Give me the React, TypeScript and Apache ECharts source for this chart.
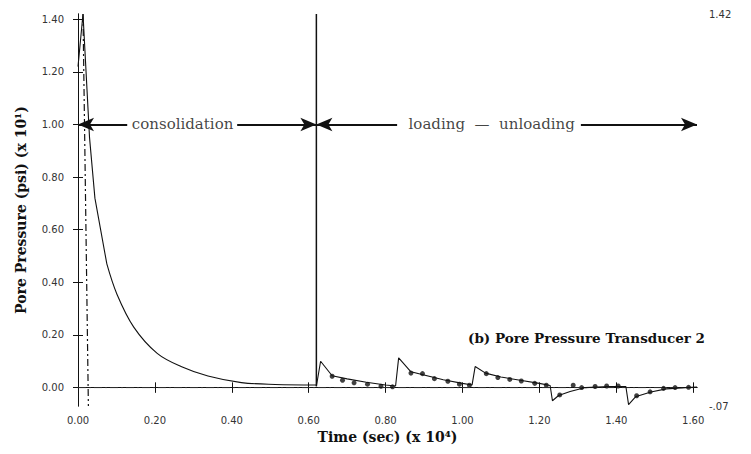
import React, { useEffect, useRef } from "react";
import * as echarts from "echarts";

const xTicks = [0, 0.2, 0.4, 0.6, 0.8, 1.0, 1.2, 1.4, 1.6];
const yTicks = [0, 0.2, 0.4, 0.6, 0.8, 1.0, 1.2, 1.4];
const rightLabels = [-0.07, 1.42];

const peakT = [0, 0.013, 0.03, 0.044, 0.075];
const peakP = [1.22, 1.42, 0.95, 0.72, 0.47];

const decayT = [0.075, 0.101, 0.145, 0.206, 0.268, 0.338, 0.425, 0.513, 0.62];
const decayP = [0.47, 0.356, 0.23, 0.13, 0.08, 0.044, 0.019, 0.012, 0.01];

const jumpT = [0.62, 0.62];
const jumpP = [0.005, 1.42];

const drainT = [0.013, 0.027];
const drainP = [1.42, -0.07];

const loadingT = [0.62, 0.631, 0.661, 0.7, 0.75, 0.8, 0.826, 0.834, 0.866, 0.9, 0.95, 1.0, 1.025, 1.033, 1.06, 1.1, 1.15, 1.2, 1.228, 1.234, 1.25, 1.28, 1.32, 1.38, 1.425, 1.432, 1.45, 1.49, 1.53, 1.58, 1.61];
const loadingP = [0.005, 0.1, 0.045, 0.033, 0.02, 0.01, 0.006, 0.113, 0.06, 0.048, 0.03, 0.016, 0.01, 0.08, 0.055, 0.04, 0.028, 0.016, 0.008, -0.05, -0.03, -0.015, 0.0, 0.004, 0.004, -0.065, -0.035, -0.017, -0.005, 0.0, 0.002];

const measT = [0.661, 0.688, 0.718, 0.753, 0.788, 0.818, 0.866, 0.896, 0.927, 0.962, 0.992, 1.018, 1.062, 1.092, 1.123, 1.153, 1.188, 1.218, 1.253, 1.288, 1.31, 1.345, 1.375, 1.405, 1.453, 1.488, 1.523, 1.553, 1.588];
const measP = [0.043, 0.028, 0.018, 0.013, 0.005, 0.003, 0.055, 0.053, 0.034, 0.024, 0.013, 0.009, 0.053, 0.038, 0.031, 0.025, 0.016, 0.009, -0.028, 0.009, 0.0, 0.004, 0.006, 0.006, -0.031, -0.016, -0.003, 0.0, 0.001];

const phaseLabels = ["consolidation", "loading  \u2014  unloading"];
const phaseLabelT = [0.272, 1.076];
const phaseLevel = 1.0;
const consolidationArrowL = [0, 0.128];
const consolidationArrowR = [0.414, 0.62];
const loadingArrowL = [0.62, 0.83];
const loadingArrowR = [1.308, 1.61];

const zip = (a: number[], b: number[]) => a.map((v, i) => [v, b[i]]);

const X_MIN = 0;
const X_MAX = 1.61;
const Y_MIN = -0.07;
const Y_MAX = 1.42;

const tickFont = {
  fontFamily: "DejaVu Sans",
  fontSize: 10,
  color: "#333",
};

export default function App() {
  const ref = useRef<HTMLDivElement>(null);
  useEffect(() => {
    document.body.style.margin = "0";
    if (!ref.current) return;
    const chart = echarts.init(ref.current, null, { renderer: "svg" });
    const lineStyleAxis = { color: "#111", width: 1 };
    const baseX = {
      type: "value",
      min: X_MIN,
      max: X_MAX,
      interval: 0.2,
      splitLine: { show: false },
    };
    const baseY = {
      type: "value",
      min: Y_MIN,
      max: Y_MAX,
      splitLine: { show: false },
    };
    const arrowSeg = (a: number[], sym: string[]) => [
      { coord: [a[0], phaseLevel], symbol: sym[0] },
      { coord: [a[1], phaseLevel], symbol: sym[1] },
    ];
    const option: any = {
      animation: false,
      backgroundColor: "#fff",
      grid: { left: 78, right: 54, top: 14, bottom: 48, containLabel: false },
      xAxis: [
        {
          ...baseX,
          position: "bottom",
          name: "Time (sec) (x 10\u2074)",
          nameLocation: "middle",
          nameGap: 24,
          nameTextStyle: {
            fontFamily: "DejaVu Serif",
            fontWeight: "bold",
            fontSize: 14,
            color: "#111",
          },
          axisLine: { show: true, lineStyle: lineStyleAxis },
          axisTick: { show: true, inside: false, length: 5, lineStyle: lineStyleAxis, customValues: xTicks },
          axisLabel: { show: true, margin: 9, customValues: xTicks, formatter: (v: number) => v.toFixed(2), ...tickFont },
        },
        {
          ...baseX,
          position: "bottom",
          axisLine: { show: false },
          axisTick: { show: true, inside: true, length: 5, lineStyle: lineStyleAxis, customValues: xTicks },
          axisLabel: { show: false },
        },
        {
          ...baseX,
          position: "top",
          axisLine: { show: true, lineStyle: lineStyleAxis },
          axisTick: { show: true, inside: false, length: 5, lineStyle: lineStyleAxis, customValues: xTicks },
          axisLabel: { show: false },
        },
        {
          ...baseX,
          position: "top",
          axisLine: { show: false },
          axisTick: { show: true, inside: true, length: 5, lineStyle: lineStyleAxis, customValues: xTicks },
          axisLabel: { show: false },
        },
      ],
      yAxis: [
        {
          ...baseY,
          position: "left",
          name: "Pore Pressure (psi) (x 10\u00b9)",
          nameLocation: "middle",
          nameGap: 50,
          nameTextStyle: {
            fontFamily: "DejaVu Serif",
            fontWeight: "bold",
            fontSize: 14,
            color: "#111",
          },
          axisLine: { show: true, lineStyle: lineStyleAxis },
          axisTick: { show: true, inside: false, length: 5, lineStyle: lineStyleAxis, customValues: yTicks },
          axisLabel: { show: true, margin: 14, customValues: yTicks, formatter: (v: number) => v.toFixed(2), ...tickFont },
        },
        {
          ...baseY,
          position: "left",
          axisLine: { show: false },
          axisTick: { show: true, inside: true, length: 5, lineStyle: lineStyleAxis, customValues: yTicks },
          axisLabel: { show: false },
        },
        {
          ...baseY,
          position: "right",
          axisLine: { show: true, lineStyle: lineStyleAxis },
          axisTick: { show: true, inside: false, length: 5, lineStyle: lineStyleAxis, customValues: yTicks },
          axisLabel: {
            show: true,
            margin: 12,
            customValues: rightLabels,
            formatter: (v: number) => (v < 0 ? "-" + Math.abs(v).toFixed(2).slice(1) : v.toFixed(2)),
            ...tickFont,
          },
        },
        {
          ...baseY,
          position: "right",
          axisLine: { show: false },
          axisTick: { show: true, inside: true, length: 5, lineStyle: lineStyleAxis, customValues: yTicks },
          axisLabel: { show: false },
        },
      ],
      series: [
        {
          name: "zero",
          type: "line",
          data: [[X_MIN, 0], [X_MAX, 0]],
          symbol: "none",
          lineStyle: { color: "#333", width: 0.9, type: [8, 3, 2, 3] },
          silent: true,
        },
        {
          name: "drain",
          type: "line",
          data: zip(drainT, drainP),
          symbol: "none",
          lineStyle: { color: "#111", width: 1.2, type: [7, 3, 2, 3] },
        },
        {
          name: "peak",
          type: "line",
          data: zip(peakT, peakP),
          symbol: "none",
          lineStyle: { color: "#111", width: 1.1 },
        },
        {
          name: "decay",
          type: "line",
          data: zip(decayT, decayP),
          symbol: "none",
          smooth: 0.35,
          lineStyle: { color: "#111", width: 1.1 },
        },
        {
          name: "jump",
          type: "line",
          data: zip(jumpT, jumpP),
          symbol: "none",
          lineStyle: { color: "#111", width: 1.5 },
        },
        {
          name: "loading",
          type: "line",
          data: zip(loadingT, loadingP),
          symbol: "none",
          lineStyle: { color: "#111", width: 1.1 },
        },
        {
          name: "measured",
          type: "scatter",
          data: zip(measT, measP),
          symbol: "circle",
          symbolSize: 5,
          itemStyle: { color: "#111" },
        },
        {
          name: "phases",
          type: "scatter",
          data: phaseLabelT.map((t, i) => ({ value: [t, phaseLevel], name: phaseLabels[i] })),
          symbolSize: 0,
          label: {
            show: true,
            position: "inside",
            formatter: (p: any) => p.name,
            fontFamily: "DejaVu Serif",
            fontSize: 15,
            color: "#111",
          },
          markLine: {
            silent: true,
            symbolSize: [10, 16],
            lineStyle: { color: "#111", width: 1.8, type: "solid" },
            label: { show: false },
            data: [
              arrowSeg(consolidationArrowL, ["arrow", "none"]),
              arrowSeg(consolidationArrowR, ["none", "arrow"]),
              arrowSeg(loadingArrowL, ["arrow", "none"]),
              arrowSeg(loadingArrowR, ["none", "arrow"]),
            ],
          },
        },
      ],
      graphic: [
        {
          type: "text",
          right: 46,
          top: 331,
          style: {
            text: "(b) Pore Pressure Transducer 2",
            font: "bold 13.5px 'DejaVu Serif'",
            fill: "#111",
          },
        },
      ],
    };
    chart.setOption(option);
    return () => chart.dispose();
  }, []);
  return <div ref={ref} style={{ width: 751, height: 454 }} />;
}
